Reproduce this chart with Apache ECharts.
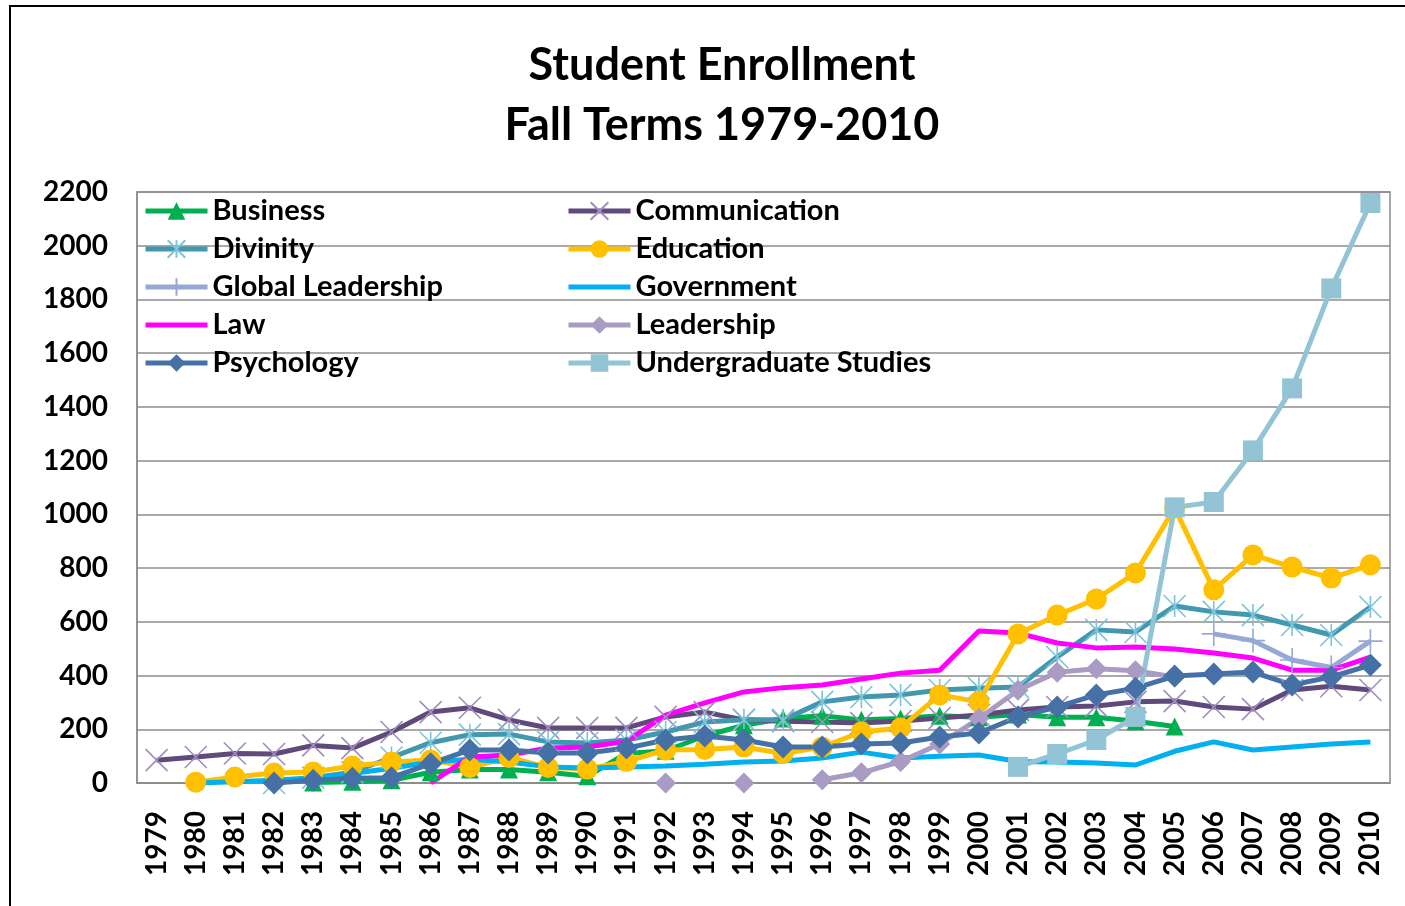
<!DOCTYPE html>
<html>
<head>
<meta charset="utf-8">
<title>Student Enrollment</title>
<script src="https://cdn.jsdelivr.net/npm/echarts@6/dist/echarts.min.js"></script>
<style>
  html, body { margin: 0; padding: 0; background: #fff; }
  #chart { width: 1405px; height: 906px; }
</style>
</head>
<body>
<div id="chart"></div>
<script>
  "use strict";

  const FONT = "Lato, 'Open Sans', sans-serif";

  const years = [
    "1979", "1980", "1981", "1982", "1983", "1984", "1985", "1986", "1987", "1988",
    "1989", "1990", "1991", "1992", "1993", "1994", "1995", "1996", "1997", "1998",
    "1999", "2000", "2001", "2002", "2003", "2004", "2005", "2006", "2007", "2008",
    "2009", "2010",
  ];

  const business = [null, null, null, null, 2, 5, 10, 40, 50, 50,
    40, 25, 110, 120, 175, 215, 240, 250, 235, 240,
    250, 245, 255, 245, 245, 230, 210, null, null, null, null, null];
  const communication = [85, 97, 110, 108, 140, 130, 190, 264, 280, 235,
    205, 205, 205, 246, 264, 235, 230, 227, 223, 231,
    242, 253, 272, 283, 287, 302, 305, 283, 275, 346, 360, 346];
  const divinity = [null, null, null, 0, 20, 40, 95, 150, 180, 182,
    153, 149, 160, 190, 227, 235, 235, 302, 320, 328,
    346, 353, 357, 469, 570, 562, 659, 637, 625, 588, 551, 655];
  const education = [null, 3, 22, 37, 41, 63, 78, 86, 58, 95,
    58, 52, 80, 123, 125, 134, 110, 134, 190, 205,
    328, 302, 555, 625, 685, 782, 1024, 719, 849, 804, 763, 812];
  const globalLeadership = [null, null, null, null, null, null, null, null, null, null,
    null, null, null, null, null, null, null, null, null, null,
    null, null, null, null, null, null, null, 555, 530, 458, 430, 528];
  const government = [null, 0, 5, 10, 20, 35, 55, 78, 88, 78,
    60, 56, 60, 63, 70, 78, 82, 93, 115, 93,
    100, 104, 80, 78, 74, 67, 118, 153, 123, 134, 145, 153];
  const law = [null, null, null, null, null, null, null, 0, 97, 104,
    130, 134, 155, 253, 298, 339, 355, 365, 387, 409,
    420, 566, 558, 521, 503, 506, 499, 484, 465, 420, 420, 469];
  const leadership = [null, null, null, null, null, null, null, null, null, null,
    null, null, null, 0, null, 0, null, 12, 38, 80,
    145, 240, 345, 412, 425, 418, 395, null, null, null, null, null];
  const psychology = [null, null, null, 0, 10, 18, 20, 72, 123, 123,
    112, 112, 130, 160, 175, 160, 134, 134, 145, 149,
    171, 186, 246, 283, 328, 353, 398, 406, 413, 365, 395, 439];
  const undergrad = [null, null, null, null, null, null, null, null, null, null,
    null, null, null, null, null, null, null, null, null, null,
    null, null, 60, 108, 160, 246, 1026, 1046, 1238, 1469, 1841, 2159];

  const yTicks = { min: 0, max: 2200, interval: 200 };

  const SYM_X = "path://M0,0L20,20M20,0L0,20";
  const SYM_STAR = "path://M0,0L20,20M20,0L0,20M10,0L10,20";
  const SYM_PLUS = "path://M10,0L10,20M0,10L20,10";

  function lineSeries(name, data, color, opts) {
    const o = opts || {};
    return {
      name,
      type: "line",
      data,
      connectNulls: false,
      symbol: o.symbol || "none",
      symbolSize: o.size || 16,
      showSymbol: !!o.symbol,
      lineStyle: { color, width: 5 },
      itemStyle: o.stroke
        ? { color: o.markColor, borderColor: o.markColor, borderWidth: 1.6 }
        : { color: o.markColor || color, borderWidth: 0 },
      emphasis: { disabled: true },
    };
  }

  const series = [
    lineSeries("Business", business, "#00B050", { symbol: "triangle", size: 18 }),
    lineSeries("Communication", communication, "#604A7B", { symbol: SYM_X, size: 22, stroke: true, markColor: "#9F8DC0" }),
    lineSeries("Divinity", divinity, "#4198AF", { symbol: SYM_STAR, size: 22, stroke: true, markColor: "#7DC4D8" }),
    lineSeries("Education", education, "#FFC000", { symbol: "circle", size: 21 }),
    lineSeries("Global Leadership", globalLeadership, "#95A9D4", { symbol: SYM_PLUS, size: 24, stroke: true, markColor: "#95A9D4" }),
    lineSeries("Government", government, "#00B0F0"),
    lineSeries("Law", law, "#FF00FF"),
    lineSeries("Leadership", leadership, "#A99BC4", { symbol: "diamond", size: 21 }),
    lineSeries("Psychology", psychology, "#4571A7", { symbol: "diamond", size: 23 }),
    lineSeries("Undergraduate Studies", undergrad, "#93C4D6", { symbol: "rect", size: 20 }),
  ];

  // series drawn without markers get a line-only legend icon
  const plainNames = ["Government", "Law"];
  function legendItems(names) {
    return names.map((n) => plainNames.includes(n) ? { name: n, itemStyle: { opacity: 0 } } : n);
  }

  const legendText = { fontFamily: FONT, fontSize: 29, fontWeight: "bold", color: "#000", lineHeight: 30 };
  const legendBase = {
    orient: "vertical", top: 196, padding: 0, itemGap: 8,
    itemWidth: 62, itemHeight: 22, textStyle: legendText, selectedMode: false,
    lineStyle: { width: 5 },
  };

  const chart = echarts.init(document.getElementById("chart"));
  chart.setOption({
    animation: false,
    backgroundColor: "#fff",
    title: {
      text: "Student Enrollment\nFall Terms 1979-2010",
      left: 717, textAlign: "center", top: 30,
      textStyle: { fontFamily: FONT, fontSize: 45, fontWeight: "bold", color: "#000", lineHeight: 60 },
    },
    graphic: [{
      type: "rect", silent: true,
      shape: { x: 10, y: 6, width: 1430, height: 940 },
      style: { fill: "none", stroke: "#000", lineWidth: 2 },
    }],
    legend: [
      Object.assign({ left: 143, data: legendItems(["Business", "Divinity", "Global Leadership", "Law", "Psychology"]) }, legendBase),
      Object.assign({ left: 566, data: legendItems(["Communication", "Education", "Government", "Leadership", "Undergraduate Studies"]) }, legendBase),
    ],
    grid: {
      left: 137, right: 15, top: 192, bottom: 123,
      show: true, borderColor: "#8c8c8c", borderWidth: 1.5,
    },
    xAxis: {
      type: "category", data: years, boundaryGap: true,
      axisLine: { lineStyle: { color: "#8c8c8c", width: 1.5 } },
      axisTick: { show: false },
      axisLabel: { rotate: 90, margin: 28, interval: 0, fontFamily: FONT, fontSize: 28, fontWeight: "bold", color: "#000" },
    },
    yAxis: {
      type: "value", min: yTicks.min, max: yTicks.max, interval: yTicks.interval,
      axisLine: { show: true, lineStyle: { color: "#8c8c8c", width: 1.5 } },
      axisTick: { show: false },
      splitLine: { lineStyle: { color: "#8c8c8c", width: 1.5 } },
      axisLabel: {
        margin: 29, fontFamily: FONT, fontSize: 28, fontWeight: "bold", color: "#000",
        formatter: (v) => String(v),
      },
    },
    series,
  });
</script>
</body>
</html>
